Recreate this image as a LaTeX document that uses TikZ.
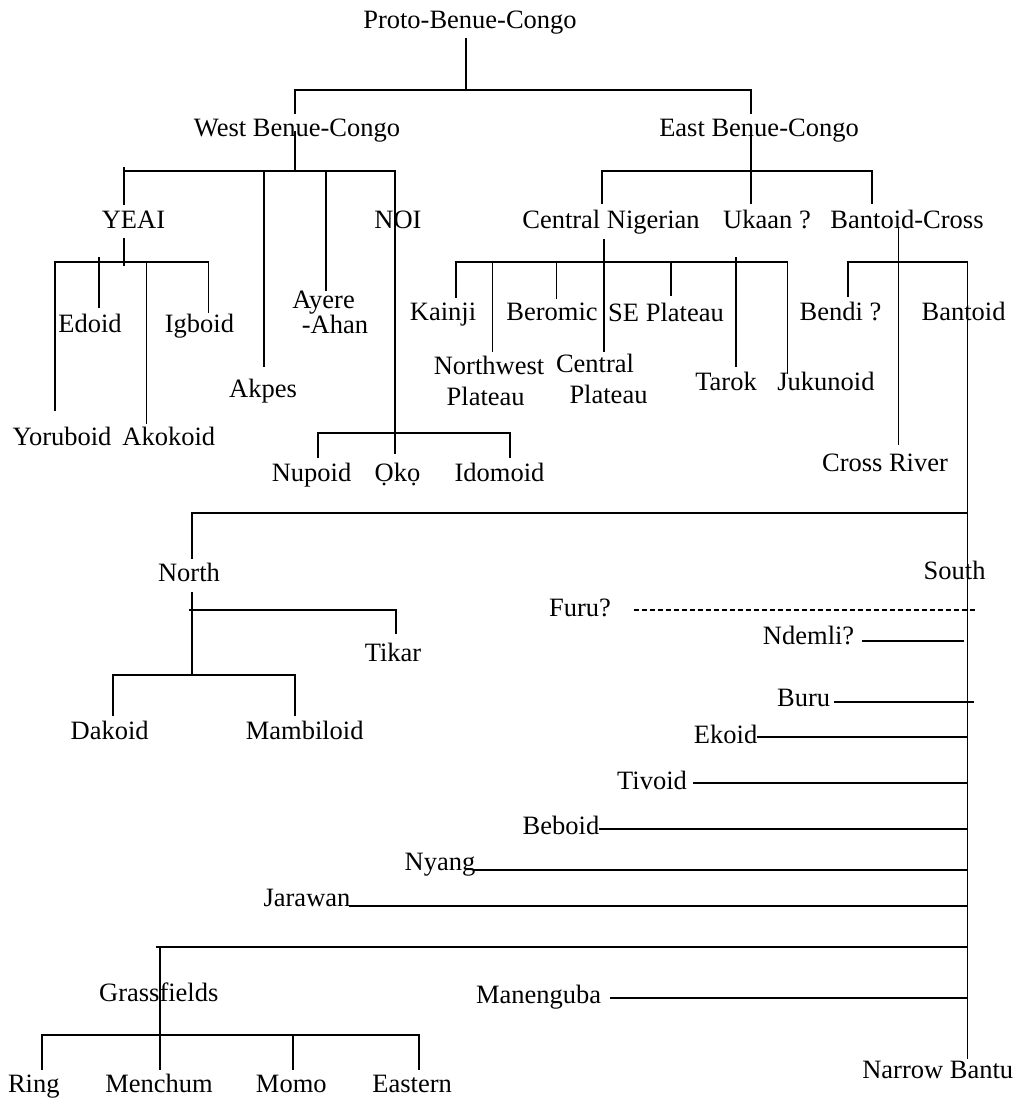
\documentclass[tikz,border=0pt]{standalone}
\usepackage{fontspec}
\setmainfont{Liberation Serif}
\begin{document}
\begin{tikzpicture}[x=1pt,y=-1pt,
  lbl/.style={anchor=base,inner sep=0pt,font=\fontsize{26.5}{24}\selectfont},
  ln/.style={line width=1.7pt,line cap=rect},
  dln/.style={line width=1.1pt,dash pattern=on 5pt off 3pt}]
\useasboundingbox[fill=white] (0,0) rectangle (1018,1099);
% ---------- labels ----------
\node[lbl] (pbc)  at (470,29)   {Proto-Benue-Congo};
\node[lbl] (wbc)  at (297,137)  {West Benue-Congo};
\node[lbl] (ebc)  at (759,137)  {East Benue-Congo};
\node[lbl] (yeai) at (133.5,229) {YEAI};
\node[lbl] (noi)  at (398,229)  {NOI};
\node[lbl] (cn)   at (611,229)  {Central Nigerian};
\node[lbl] (uk)   at (767,229)  {Ukaan ?};
\node[lbl] (bc)   at (907,229)  {Bantoid-Cross};
\node[lbl] (edo)  at (90,332)   {Edoid};
\node[lbl] (igb)  at (199.5,332) {Igboid};
\node[lbl] (yor)  at (62,445)   {Yoruboid};
\node[lbl] (ako)  at (168.8,445) {Akokoid};
\node[lbl] (akp)  at (263,397)  {Akpes};
\node[lbl] (aye)  at (323.6,308.5) {Ayere};
\node[lbl] (aha)  at (335,333.5)  {-Ahan};
\node[lbl] (nup)  at (311.6,481) {Nupoid};
\node[lbl] (oko)  at (397.5,481) {Ọkọ};
\node[lbl] (ido)  at (499.5,481) {Idomoid};
\node[lbl] (kai)  at (443,320)  {Kainji};
\node[lbl] (ber)  at (552,320)  {Beromic};
\node[lbl] (sep)  at (666,321.5) {SE Plateau};
\node[lbl] (nw1)  at (489,374)  {Northwest};
\node[lbl] (nw2)  at (485.7,405) {Plateau};
\node[lbl] (cp1)  at (595,372.7) {Central};
\node[lbl] (cp2)  at (608.5,403) {Plateau};
\node[lbl] (tar)  at (726,390)  {Tarok};
\node[lbl] (juk)  at (826,390)  {Jukunoid};
\node[lbl] (ben)  at (840.5,320) {Bendi ?};
\node[lbl] (bnt)  at (963.6,320) {Bantoid};
\node[lbl] (crr)  at (885,471.7) {Cross River};
\node[lbl] (nor)  at (189,581.7) {North};
\node[lbl] (sou)  at (954.6,579) {South};
\node[lbl] (tik)  at (393,661.7) {Tikar};
\node[lbl] (dak)  at (109.7,739.3) {Dakoid};
\node[lbl] (mam)  at (304.7,739.3) {Mambiloid};
\node[lbl] (fur)  at (580,616.7) {Furu?};
\node[lbl] (nde)  at (808.6,644) {Ndemli?};
\node[lbl] (bur)  at (803.7,706) {Buru};
\node[lbl] (eko)  at (725.6,743.3) {Ekoid};
\node[lbl] (tiv)  at (652,789.3) {Tivoid};
\node[lbl] (beb)  at (561,834) {Beboid};
\node[lbl] (nya)  at (440,870) {Nyang};
\node[lbl] (jar)  at (307,906) {Jarawan};
\node[lbl] (gra)  at (158.8,1001.7) {Grassfields};
\node[lbl] (man)  at (538.7,1003.3) {Manenguba};
\node[lbl] (rin)  at (33.8,1092.7) {Ring};
\node[lbl] (men)  at (159,1092.7) {Menchum};
\node[lbl] (mom)  at (291.3,1092.7) {Momo};
\node[lbl] (eas)  at (412.2,1092.7) {Eastern};
\node[lbl] (nbt)  at (937.7,1078.3) {Narrow Bantu};
% ---------- junction coordinates ----------
\coordinate (trunkTop) at (967.6,262);
\coordinate (trunkBot) at (967.6,1058.3);
% ---------- connectors ----------
% top level
\draw[ln] (465.7,39) -- (465.7,90);
\draw[ln] (295,113) -- (295,90) -- (751,90) -- (751,113);
% West Benue-Congo
\draw[ln] (295,132) -- (295,170.7);
\draw[ln] (124,168) -- (124,204);
\draw[ln] (124,170.7) -- (395,170.7);
\draw[ln] (264,170.7) -- (264,366);
\draw[ln] (326,173) -- (326,290);
\draw[ln] (395,170.7) -- (395,452.7);
% YEAI
\draw[ln] (124,239) -- (124,265);
\draw[ln] (55,262) -- (208.5,262);
\draw[ln] (55,262) -- (55,410);
\draw[ln] (99,258) -- (99,307);
\draw[ln] (146.5,262) -- (146.5,423);
\draw[ln] (208.5,262) -- (208.5,311.7);
% NOI
\draw[ln] (318,456.7) -- (318,432.7) -- (510,432.7) -- (510,456.7);
% East Benue-Congo
\draw[ln] (751,132) -- (751,203);
\draw[ln] (602,203) -- (602,170.7) -- (872,170.7) -- (872,203);
% Central Nigerian
\draw[ln] (604,240) -- (604,351);
\draw[ln] (456,296.7) -- (456,262) -- (787.5,262) -- (787.5,373);
\draw[ln] (492.6,262) -- (492.6,351);
\draw[ln] (556.5,262) -- (556.5,298);
\draw[ln] (670.8,262) -- (670.8,295);
\draw[ln] (736,258) -- (736,366);
% Bantoid-Cross
\draw[ln] (898.6,228) -- (898.6,444);
\draw[ln] (848,296) -- (848,262) -- (trunkTop);
\draw[ln] (trunkTop) -- (trunkBot);
% North / South
\draw[ln] (192.3,558) -- (192.3,512.7) -- (967.6,512.7);
\draw[ln] (192.3,593) -- (192.3,672.7);
\draw[ln] (190,610) -- (396,610) -- (396,633);
\draw[ln] (112.7,715) -- (112.7,675) -- (295,675) -- (295,715);
% South branches
\draw[dln] (633.6,610) -- (975,610);
\draw[ln] (862.4,641) -- (963.5,641);
\draw[ln] (835,702) -- (973,702);
\draw[ln] (757.5,736.7) -- (967.6,736.7);
\draw[ln] (693.8,782.7) -- (967.6,782.7);
\draw[ln] (600,829.3) -- (967.6,829.3);
\draw[ln] (475,870) -- (967.6,870);
\draw[ln] (350,905.7) -- (967.6,905.7);
\draw[ln] (610.7,998.3) -- (967.6,998.3);
% Grassfields
\draw[ln] (156.7,946.7) -- (967.6,946.7);
\draw[ln] (160,946.7) -- (160,1069);
\draw[ln] (42.3,1069) -- (42.3,1035) -- (419,1035) -- (419,1069);
\draw[ln] (293.3,1035) -- (293.3,1069);
\end{tikzpicture}
\end{document}
